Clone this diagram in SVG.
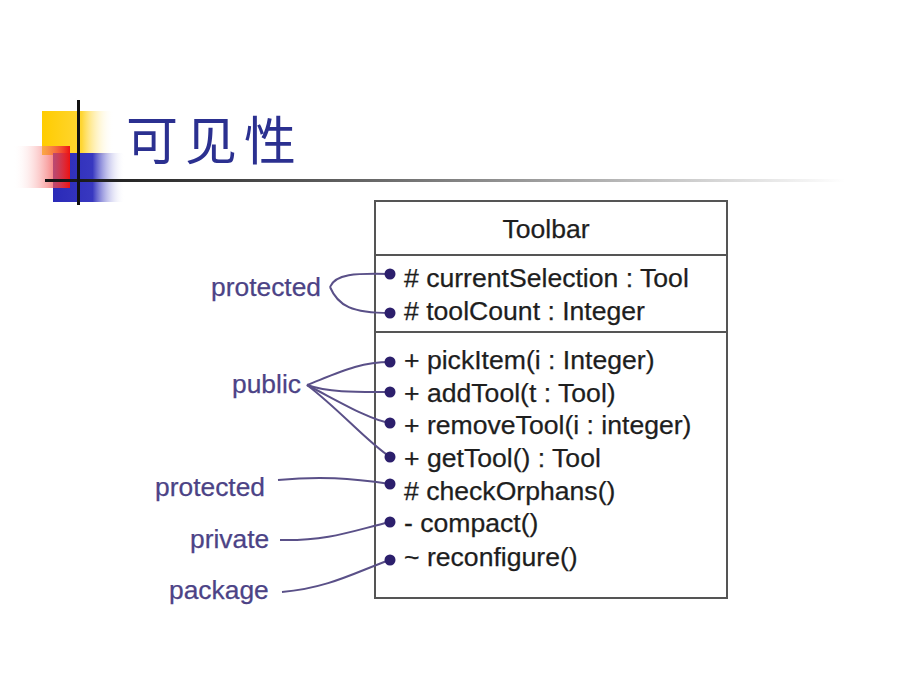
<svg xmlns="http://www.w3.org/2000/svg" width="920" height="690" viewBox="0 0 920 690">
<defs>
<linearGradient id="gy" x1="0" y1="0" x2="1" y2="0"><stop offset="0" stop-color="#ffcc00"/><stop offset="0.55" stop-color="#ffd633"/><stop offset="1" stop-color="#ffffff" stop-opacity="0"/></linearGradient>
<linearGradient id="gr" x1="0" y1="0" x2="1" y2="0"><stop offset="0" stop-color="#ffffff" stop-opacity="0"/><stop offset="1" stop-color="#ee1111"/></linearGradient>
<linearGradient id="gb" x1="0" y1="0" x2="1" y2="0"><stop offset="0" stop-color="#2a2ab8"/><stop offset="0.55" stop-color="#3838c0"/><stop offset="1" stop-color="#ffffff" stop-opacity="0"/></linearGradient>
<linearGradient id="gl" x1="0" y1="0" x2="1" y2="0"><stop offset="0" stop-color="#111"/><stop offset="0.4" stop-color="#666"/><stop offset="1" stop-color="#ffffff"/></linearGradient>
</defs>
<style>
.box{fill:#fff;stroke:#555;stroke-width:2}
.div{stroke:#555;stroke-width:2}
.mem{font-family:"Liberation Sans",Arial,sans-serif;font-size:26.6px;fill:#1e1e1e;stroke:#1e1e1e;stroke-width:0.25}
.lab{font-family:"Liberation Sans",Arial,sans-serif;font-size:26.4px;fill:#4c4386;stroke:#4c4386;stroke-width:0.25}
.con path{fill:none;stroke:#5a5088;stroke-width:2}
.dot{fill:#2c1f6c}
</style>
<rect width="920" height="690" fill="#fff"/>
<g id="logo">
<rect x="42" y="111" width="72" height="44" fill="url(#gy)"/>
<rect x="53" y="153" width="72" height="49" fill="url(#gb)"/>
<rect x="13" y="146" width="57" height="42" fill="url(#gr)"/>
<rect x="45" y="179" width="800" height="3" fill="url(#gl)"/>
<rect x="77" y="100" width="3" height="105" fill="#111"/>
</g>
<text id="title" x="126" y="160" font-family="'Noto Sans CJK SC',sans-serif" font-size="52" letter-spacing="7" fill="#2b3090">可见性</text>
<g id="Toolbar">
<rect class="box" x="375" y="201" width="352" height="397"/>
<line class="div" x1="375" y1="255" x2="727" y2="255"/>
<line class="div" x1="375" y1="332" x2="727" y2="332"/>
<text class="mem" x="546" y="238" text-anchor="middle" font-size="25">Toolbar</text>
<text class="mem" x="404" y="287">#  currentSelection : Tool</text>
<text class="mem" x="404" y="320">#  toolCount : Integer</text>
<text class="mem" x="404" y="369">+ pickItem(i : Integer)</text>
<text class="mem" x="404" y="402">+ addTool(t : Tool)</text>
<text class="mem" x="404" y="434">+ removeTool(i : integer)</text>
<text class="mem" x="404" y="467">+ getTool() : Tool</text>
<text class="mem" x="404" y="500"># checkOrphans()</text>
<text class="mem" x="404" y="532">- compact()</text>
<text class="mem" x="404" y="566">~ reconfigure()</text>
</g>
<g id="labels">
<text class="lab" x="211" y="296">protected</text>
<text class="lab" x="232" y="393">public</text>
<text class="lab" x="155" y="496">protected</text>
<text class="lab" x="190" y="548">private</text>
<text class="lab" x="169" y="599">package</text>
</g>
<g id="connectors" class="con">
<path d="M330,287 C335,274 355,273 390,274"/>
<path d="M330,287 C338,306 352,313 390,313"/>
<path d="M307,385 C340,372 360,362 390,362"/>
<path d="M307,385 C330,393 360,392 390,392"/>
<path d="M307,385 C340,402 370,420 390,423"/>
<path d="M307,385 C340,410 365,440 390,457"/>
<path d="M278,480 C320,476 350,478 390,484"/>
<path d="M280,540 C330,541 355,530 390,522"/>
<path d="M282,592 C330,588 360,570 390,560"/>
<circle class="dot" cx="390" cy="274" r="5.5"/>
<circle class="dot" cx="390" cy="313" r="5.5"/>
<circle class="dot" cx="390" cy="362" r="5.5"/>
<circle class="dot" cx="390" cy="392" r="5.5"/>
<circle class="dot" cx="390" cy="423" r="5.5"/>
<circle class="dot" cx="390" cy="457" r="5.5"/>
<circle class="dot" cx="390" cy="484" r="5.5"/>
<circle class="dot" cx="390" cy="522" r="5.5"/>
<circle class="dot" cx="390" cy="560" r="5.5"/>
</g>
</svg>
